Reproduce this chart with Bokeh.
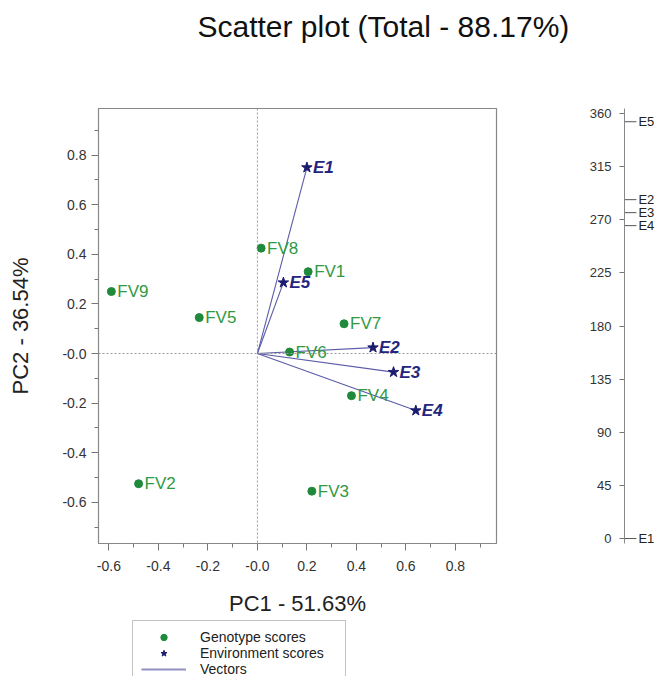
from bokeh.plotting import figure
from bokeh.models import (ColumnDataSource, Span, Legend, LegendItem, Label,
                          FixedTicker, CustomJSTickFormatter, Range1d)
from bokeh.layouts import row, column
from bokeh.core.properties import value
from bokeh.embed import file_html
from bokeh.resources import INLINE

FONT = "Liberation Sans"

title_text = "Scatter plot (Total - 88.17%)"
x_label = "PC1 - 51.63%"
y_label = "PC2 - 36.54%"

# Genotype scores
genotypes = ["FV1", "FV2", "FV3", "FV4", "FV5", "FV6", "FV7", "FV8", "FV9"]
geno_pc1 = [0.205, -0.48, 0.22, 0.38, -0.235, 0.13, 0.35, 0.015, -0.59]
geno_pc2 = [0.33, -0.525, -0.555, -0.17, 0.145, 0.006, 0.12, 0.425, 0.25]

# Environment scores
environments = ["E1", "E2", "E3", "E4", "E5"]
env_pc1 = [0.20, 0.467, 0.55, 0.64, 0.105]
env_pc2 = [0.75, 0.024, -0.075, -0.23, 0.286]
env_angle = [0, 287, 276, 265, 353]

x_ticks = [-0.6, -0.4, -0.2, 0.0, 0.2, 0.4, 0.6, 0.8]
x_minor = [-0.5, -0.3, -0.1, 0.1, 0.3, 0.5, 0.7, 0.9]
y_ticks = [-0.6, -0.4, -0.2, 0.0, 0.2, 0.4, 0.6, 0.8]
y_minor = [-0.7, -0.5, -0.3, -0.1, 0.1, 0.3, 0.5, 0.7, 0.9]
angle_ticks = [0, 45, 90, 135, 180, 225, 270, 315, 360]

legend_labels = ["Genotype scores", "Environment scores", "Vectors"]

GREEN = "#1f8a3b"
GREEN_TXT = "#2f9a42"
NAVY = "#1c1c6e"
NAVY_TXT = "#25257f"
VEC = "#5b5ba8"
GREY = "#888888"

geno_src = ColumnDataSource(dict(x=geno_pc1, y=geno_pc2, name=genotypes))
env_src = ColumnDataSource(dict(x=env_pc1, y=env_pc2, name=environments,
                                x0=[0.0] * len(env_pc1), y0=[0.0] * len(env_pc2)))

# Title strip
tf = figure(width=658, height=50, x_range=Range1d(0, 1), y_range=Range1d(0, 1),
            x_axis_location=None, y_axis_location=None,
            output_backend="svg", toolbar_location=None,
            min_border_left=0, min_border_right=0, min_border_top=0, min_border_bottom=0)
tf.grid.visible = False
tf.outline_line_color = None
tf.add_layout(Label(x=197, y=24, x_units="screen", y_units="screen",
                    text=title_text, text_font=FONT, text_font_size="30px",
                    text_baseline="middle", text_align="left", text_color="#111111"))

p = figure(width=580, height=569,
           x_range=Range1d(-0.642, 0.966), y_range=Range1d(-0.766, 0.988),
           output_backend="svg", toolbar_location=None,
           min_border_left=98, min_border_right=84,
           min_border_top=58, min_border_bottom=76)
p.grid.visible = False
p.outline_line_color = GREY
p.outline_line_width = 1.2
p.background_fill_color = "white"

fmt = CustomJSTickFormatter(code="""
const s = tick.toFixed(1);
return (s === '0.0' || s === '-0.0') ? '-0.0' : s;
""")
p.xaxis.ticker = FixedTicker(ticks=x_ticks, minor_ticks=x_minor)
p.yaxis.ticker = FixedTicker(ticks=y_ticks, minor_ticks=y_minor)
p.xaxis.formatter = fmt
p.yaxis.formatter = fmt
for ax in p.axis:
    ax.axis_line_color = GREY
    ax.major_tick_line_color = "#777777"
    ax.minor_tick_line_color = "#777777"
    ax.major_tick_out = 7
    ax.major_tick_in = 0
    ax.minor_tick_out = 4
    ax.minor_tick_in = 0
    ax.major_label_text_font = FONT
    ax.major_label_text_font_size = "14px"
    ax.major_label_text_color = "#333333"
    ax.axis_label_text_font = FONT
    ax.axis_label_text_font_size = "22px"
    ax.axis_label_text_font_style = "normal"
    ax.axis_label_text_color = "#222222"
p.xaxis.axis_label = x_label
p.yaxis.axis_label = y_label
p.xaxis.major_label_standoff = 10
p.xaxis.axis_label_standoff = 17
p.yaxis.major_label_standoff = 5
p.yaxis.axis_label_standoff = 26

p.add_layout(Span(location=0, dimension="height", line_color="#9a9a9a",
                  line_dash="2 2", line_width=1))
p.add_layout(Span(location=0, dimension="width", line_color="#9a9a9a",
                  line_dash="2 2", line_width=1))

p.segment(x0="x0", y0="y0", x1="x", y1="y", source=env_src,
          line_color=VEC, line_width=1.1)
p.scatter(x="x", y="y", source=geno_src, marker="circle", size=8,
          fill_color=GREEN, line_color=GREEN)
p.scatter(x="x", y="y", source=env_src, marker="star", size=11,
          fill_color=NAVY, line_color=NAVY)

p.text(x="x", y="y", text="name", source=geno_src, x_offset=6,
       text_baseline="middle", text_align="left", text_font=value(FONT),
       text_font_size="17px", text_color=GREEN_TXT)
p.text(x="x", y="y", text="name", source=env_src, x_offset=6,
       text_baseline="middle", text_align="left", text_font=value(FONT),
       text_font_size="17px", text_font_style="bold italic", text_color=NAVY_TXT)

# Side axis of vector angles
s = figure(width=78, height=569, x_range=Range1d(0, 1),
           y_range=Range1d(-4.2, 364.2), x_axis_location=None,
           output_backend="svg", toolbar_location=None,
           min_border_left=44, min_border_right=0,
           min_border_top=58, min_border_bottom=76)
s.grid.visible = False
s.outline_line_color = None
s.yaxis.ticker = FixedTicker(ticks=angle_ticks)
s.yaxis.axis_line_color = GREY
s.yaxis.major_tick_line_color = "#777777"
s.yaxis.major_tick_out = 5
s.yaxis.major_tick_in = 0
s.yaxis.minor_tick_line_color = None
s.yaxis.major_label_standoff = 8
s.yaxis.major_label_text_font = FONT
s.yaxis.major_label_text_font_size = "13px"
s.yaxis.major_label_text_color = "#333333"

ang_src = ColumnDataSource(dict(y=env_angle, name=environments,
                                x0=[0.0] * len(env_angle), x1=[0.35] * len(env_angle)))
s.segment(x0="x0", y0="y", x1="x1", y1="y", source=ang_src,
          line_color="#555555", line_width=1)
s.text(x="x1", y="y", text="name", source=ang_src, x_offset=2,
       text_baseline="middle", text_align="left", text_font=value(FONT),
       text_font_size="13px", text_color="#222222")

# Legend strip (bottom, cut by the page edge as in the original)
lg = figure(width=658, height=57, x_range=Range1d(0, 1), y_range=Range1d(0, 1),
            x_axis_location=None, y_axis_location=None,
            output_backend="svg", toolbar_location=None,
            min_border_left=0, min_border_right=0, min_border_top=0, min_border_bottom=0)
lg.grid.visible = False
lg.outline_line_color = None
dg = lg.scatter(x=geno_pc1, y=geno_pc2, marker="circle", size=8,
                fill_color=GREEN, line_color=GREEN, visible=False)
de = lg.scatter(x=env_pc1, y=env_pc2, marker="star", size=11,
                fill_color=NAVY, line_color=NAVY, visible=False)
dv = lg.line(x=env_pc1, y=env_pc2, line_color="#9090c2", line_width=2, visible=False)
legend = Legend(items=[LegendItem(label=legend_labels[0], renderers=[dg]),
                       LegendItem(label=legend_labels[1], renderers=[de]),
                       LegendItem(label=legend_labels[2], renderers=[dv])],
                location=(132, -10), orientation="vertical", click_policy="none",
                border_line_color=GREY, border_line_width=1.2,
                background_fill_color="white", background_fill_alpha=1,
                padding=8, spacing=0, margin=0,
                glyph_width=45, glyph_height=16, label_height=16,
                label_standoff=14, label_width=137,
                label_text_font=FONT, label_text_font_size="14px",
                label_text_color="#222222")
lg.add_layout(legend)

layout = column(tf, row(p, s), lg)
open("out.html", "w").write(file_html(layout, INLINE))
